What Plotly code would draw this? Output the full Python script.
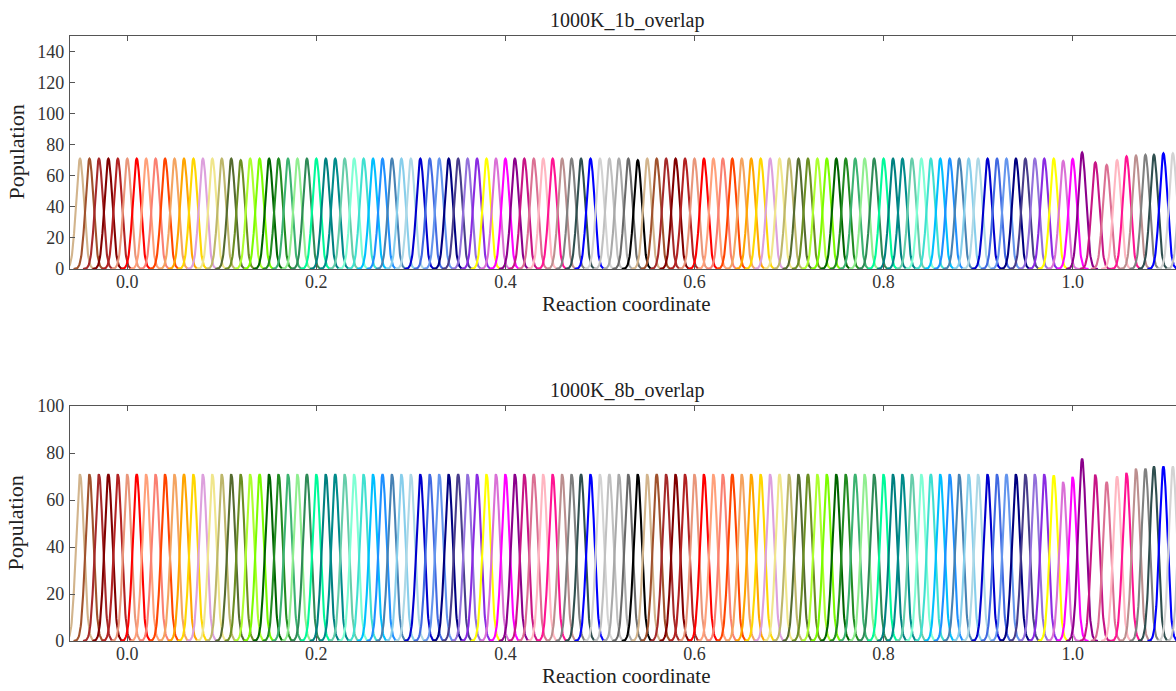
import numpy as np
import plotly.graph_objects as go

# ---- data ----
# window centres (reaction coordinate)
centers = [-0.05, -0.04, -0.03, -0.02, -0.01, 0.00, 0.01, 0.02, 0.03, 0.04,
           0.05, 0.06, 0.07, 0.08, 0.09, 0.10, 0.11, 0.12, 0.13, 0.14,
           0.15, 0.16, 0.17, 0.18, 0.19, 0.20, 0.21, 0.22, 0.23, 0.24,
           0.25, 0.26, 0.27, 0.28, 0.29, 0.30, 0.31, 0.32, 0.33, 0.34,
           0.35, 0.36, 0.37, 0.38, 0.39, 0.40, 0.41, 0.42, 0.43, 0.44,
           0.45, 0.46, 0.47, 0.48, 0.49, 0.50, 0.51, 0.52, 0.53, 0.54,
           0.55, 0.56, 0.57, 0.58, 0.59, 0.60, 0.61, 0.62, 0.63, 0.64,
           0.65, 0.66, 0.67, 0.68, 0.69, 0.70, 0.71, 0.72, 0.73, 0.74,
           0.75, 0.76, 0.77, 0.78, 0.79, 0.80, 0.81, 0.82, 0.83, 0.84,
           0.85, 0.86, 0.87, 0.88, 0.89, 0.90, 0.91, 0.92, 0.93, 0.94,
           0.95, 0.96, 0.97, 0.98, 0.99, 1.00, 1.01, 1.024, 1.036, 1.047,
           1.057, 1.067, 1.077, 1.086, 1.096, 1.106, 1.116]

# peak heights, top panel (1b)
heights_1b = [71, 71, 71, 71, 71, 71, 71, 71, 71, 71,
              71, 71, 71, 71, 71, 71, 71, 70, 71, 71,
              71, 71, 71, 71, 71, 71, 71, 71, 71, 71,
              71, 71, 71, 71, 71, 71, 71, 71, 71, 71,
              71, 71, 71, 71, 71, 71, 71, 71, 71, 71,
              71, 71, 71, 71, 71, 71, 71, 71, 71, 70,
              71, 71, 71, 71, 71, 71, 71, 71, 71, 71,
              71, 71, 71, 71, 71, 71, 71, 71, 71, 71,
              71, 71, 71, 71, 71, 71, 71, 71, 71, 71,
              71, 71, 71, 71, 71, 71, 71, 71, 71, 71,
              71, 71, 71, 71, 69.5, 70.8, 75, 68.6, 67, 70,
              72.5, 73, 73.5, 73.5, 74.5, 74.5, 74]

# peak heights, bottom panel (8b)
heights_8b = [71, 71, 71, 71, 71, 71, 71, 71, 71, 71,
              71, 71, 71, 71, 71, 71, 71, 71, 71, 71,
              71, 71, 71, 71, 71, 71, 71, 71, 71, 71,
              71, 71, 71, 71, 71, 71, 71, 71, 71, 71,
              71, 71, 71, 71, 71, 71, 71, 71, 71, 71,
              71, 71, 71, 71, 71, 71, 71, 71, 71, 71,
              71, 71, 71, 71, 71, 71, 71, 71, 71, 71,
              71, 71, 71, 71, 71, 71, 71, 71, 71, 71,
              71, 71, 71, 71, 71, 71, 71, 71, 71, 71,
              71, 71, 71, 71, 71, 71, 71, 71, 71, 71,
              71, 71, 71, 70.5, 67.7, 69.8, 77.6, 70.8, 67.7, 70,
              71.5, 73.3, 73.3, 74.3, 74.3, 74.3, 74]

# window width (std. dev. of each histogram)
sigma = 0.0042

# colour cycle (60 colours, repeated)
palette = ["#D2B48C", "#A0522D", "#A52A2A", "#800000", "#B22222", "#E9967A",
           "#FF0000", "#FFA07A", "#FA8072", "#FF4500", "#F4A460", "#FFA500",
           "#FFD700", "#DDA0DD", "#F0E68C", "#BDB76B", "#556B2F", "#6B8E23",
           "#ADFF2F", "#7CFC00", "#006400", "#228B22", "#3CB371", "#90EE90",
           "#2E8B57", "#00FA9A", "#008080", "#008B8B", "#66CDAA", "#7FFFD4",
           "#40E0D0", "#00BFFF", "#1E90FF", "#4682B4", "#87CEEB", "#ADD8E6",
           "#0000CD", "#4169E1", "#6495ED", "#000080", "#483D8B", "#9370DB",
           "#8A2BE2", "#FFFF00", "#DA70D6", "#FF00FF", "#8B008B", "#C71585",
           "#DB7093", "#FFB6C1", "#FF1493", "#BC8F8F", "#808080", "#2F4F4F",
           "#0000FF", "#D3D3D3", "#C0C0C0", "#A9A9A9", "#696969", "#000000"]

titles = ["1000K_1b_overlap", "1000K_8b_overlap"]
x_ticks = [0.0, 0.2, 0.4, 0.6, 0.8, 1.0]
x_tick_text = ["0.0", "0.2", "0.4", "0.6", "0.8", "1.0"]
y_ticks_1b = [0, 20, 40, 60, 80, 100, 120, 140]
y_ticks_8b = [0, 20, 40, 60, 80, 100]

# ---- figure ----
FONT = "Liberation Serif, Times New Roman, serif"
fig = go.Figure()

panels = [(heights_1b, "x", "y"), (heights_8b, "x2", "y2")]
for heights, xa, ya in panels:
    for i, (c, h) in enumerate(zip(centers, heights)):
        xs = np.linspace(c - 4 * sigma, c + 4 * sigma, 81)
        ys = h * np.exp(-0.5 * ((xs - c) / sigma) ** 2)
        fig.add_trace(go.Scatter(x=xs, y=ys, mode="lines",
                                 line=dict(color=palette[i % len(palette)], width=2.1),
                                 xaxis=xa, yaxis=ya, showlegend=False,
                                 hoverinfo="skip"))

x_range = [-0.0606, 1.1093]
axis_common = dict(showline=True, linecolor="#555555", linewidth=1.2,
                   ticks="inside", ticklen=5, tickcolor="#555555",
                   showgrid=False, zeroline=False,
                   tickfont=dict(family=FONT, size=18, color="#333333"))

fig.update_layout(
    width=1176, height=691,
    paper_bgcolor="white", plot_bgcolor="white",
    margin=dict(l=70, r=0, t=36, b=50),
    xaxis=dict(domain=[0, 1], range=x_range, anchor="y", mirror="ticks",
               tickvals=x_ticks, ticktext=x_tick_text, ticklabelstandoff=-4,
               **axis_common),
    yaxis=dict(domain=[0.6149, 1.0], range=[0, 150], anchor="x",
               tickvals=y_ticks_1b, ticklabelstandoff=1, **axis_common),
    xaxis2=dict(domain=[0, 1], range=x_range, anchor="y2", mirror="ticks",
                tickvals=x_ticks, ticktext=x_tick_text, ticklabelstandoff=-4,
                **axis_common),
    yaxis2=dict(domain=[0.0, 0.3884], range=[0, 100], anchor="x2",
                tickvals=y_ticks_8b, ticklabelstandoff=1, **axis_common),
)

ann = []
for t, xr, yr in [(titles[0], "x domain", "y domain"), (titles[1], "x2 domain", "y2 domain")]:
    ann.append(dict(text=t, xref=xr, yref=yr, x=0.5036, y=1, xanchor="center",
                    yanchor="bottom", yshift=2, showarrow=False,
                    font=dict(family=FONT, size=20, color="#222222")))
    ann.append(dict(text="Reaction coordinate", xref=xr, yref=yr, x=0.5036, y=0,
                    xanchor="center", yanchor="top", yshift=-21, showarrow=False,
                    font=dict(family=FONT, size=21, color="#222222")))
    ann.append(dict(text="Population", xref="paper", yref=yr, x=0, y=0.5,
                    xanchor="center", yanchor="middle", xshift=-54, textangle=-90,
                    showarrow=False, font=dict(family=FONT, size=22, color="#222222")))
fig.update_layout(annotations=ann)

fig.write_html("out.html", config={"displayModeBar": False},
               post_script="document.body.style.margin='0px';")
